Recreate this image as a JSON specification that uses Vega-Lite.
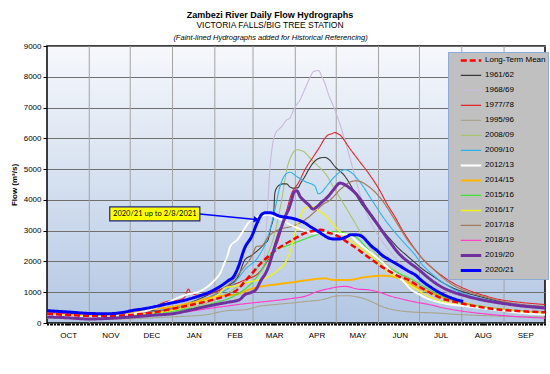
{
"$schema":"https://vega.github.io/schema/vega-lite/v6.json",
"width":498,"height":277,
"autosize":{"type":"none"},
"padding":{"left":47,"top":46,"right":5,"bottom":51},
"background":"white",
"title":{"text":"Zambezi River Daily Flow Hydrographs","subtitle":"VICTORIA FALLS/BIG TREE STATION","font":"Liberation Sans","subtitleFont":"Liberation Sans","fontSize":9,"subtitleFontSize":8.5,"fontWeight":"bold","color":"#000","subtitleColor":"#000","anchor":"middle","dx":-26,"offset":4,"subtitlePadding":1},
"config":{
 "font":"Liberation Sans",
 "view":{"stroke":"#000","strokeWidth":1.5,"fill":{"gradient":"linear","x1":0,"y1":0,"x2":0,"y2":1,"stops":[{"offset":0,"color":"#f6f8fc"},{"offset":1,"color":"#b3c7e3"}]}},
 "legend":{"fillColor":"#c0c0c0","strokeColor":"#8eaad6","padding":2,"symbolOffset":9,"symbolType":"stroke","symbolSize":420,"labelFontSize":8,"labelFont":"Liberation Sans","labelColor":"#000","labelOffset":2,"rowPadding":2,"clipHeight":12.8}
},
"datasets":{
 "months":[{"m":31},{"m":61},{"m":92},{"m":123},{"m":151},{"m":182},{"m":212},{"m":243},{"m":273},{"m":304},{"m":335}],
 "ann":[{"label":"2020/21 up to 2/8/2021","x1":46,"x2":112,"y1":3315,"y2":3770,"xm":79,"ym":3540}],
 "arrow":[{"ax":112,"ay":3540},{"ax":153.5,"ay":3360}],
 "head":[{"ax":153.5,"ay":3360}],
 "flows":[
{"series":"1968/69","day":0,"flow":220},{"series":"1968/69","day":31,"flow":160},{"series":"1968/69","day":61,"flow":200},{"series":"1968/69","day":92,"flow":350},{"series":"1968/69","day":122,"flow":650},{"series":"1968/69","day":140,"flow":900},{"series":"1968/69","day":150,"flow":1050},{"series":"1968/69","day":157,"flow":1300},{"series":"1968/69","day":159,"flow":2000},{"series":"1968/69","day":161,"flow":3200},{"series":"1968/69","day":163.5,"flow":5085},{"series":"1968/69","day":165,"flow":5700},{"series":"1968/69","day":167,"flow":6110},{"series":"1968/69","day":170,"flow":6300},{"series":"1968/69","day":172,"flow":6380},{"series":"1968/69","day":175.7,"flow":6600},{"series":"1968/69","day":178,"flow":6650},{"series":"1968/69","day":180,"flow":6850},{"series":"1968/69","day":182,"flow":7030},{"series":"1968/69","day":185.5,"flow":7250},{"series":"1968/69","day":188,"flow":7500},{"series":"1968/69","day":190.4,"flow":7740},{"series":"1968/69","day":193,"flow":8000},{"series":"1968/69","day":195.3,"flow":8170},{"series":"1968/69","day":199,"flow":8200},{"series":"1968/69","day":201.4,"flow":8010},{"series":"1968/69","day":204,"flow":7750},{"series":"1968/69","day":206,"flow":7470},{"series":"1968/69","day":211,"flow":6925},{"series":"1968/69","day":216,"flow":6280},{"series":"1968/69","day":221,"flow":5520},{"series":"1968/69","day":225.8,"flow":4760},{"series":"1968/69","day":230.6,"flow":4000},{"series":"1968/69","day":236,"flow":3400},{"series":"1968/69","day":242,"flow":2900},{"series":"1968/69","day":250,"flow":2400},{"series":"1968/69","day":258,"flow":2000},{"series":"1968/69","day":266,"flow":1650},{"series":"1968/69","day":275,"flow":1350},{"series":"1968/69","day":290,"flow":1050},{"series":"1968/69","day":308,"flow":820},{"series":"1968/69","day":320,"flow":700},{"series":"1968/69","day":335,"flow":600},{"series":"1968/69","day":350,"flow":500},{"series":"1968/69","day":365,"flow":420},
{"series":"1995/96","day":0,"flow":160},{"series":"1995/96","day":15,"flow":140},{"series":"1995/96","day":31,"flow":120},{"series":"1995/96","day":61,"flow":140},{"series":"1995/96","day":92,"flow":200},{"series":"1995/96","day":117,"flow":270},{"series":"1995/96","day":131.7,"flow":400},{"series":"1995/96","day":145,"flow":430},{"series":"1995/96","day":155,"flow":540},{"series":"1995/96","day":167,"flow":600},{"series":"1995/96","day":179.4,"flow":650},{"series":"1995/96","day":190,"flow":700},{"series":"1995/96","day":203.8,"flow":780},{"series":"1995/96","day":208.7,"flow":850},{"series":"1995/96","day":215,"flow":885},{"series":"1995/96","day":221,"flow":885},{"series":"1995/96","day":227,"flow":850},{"series":"1995/96","day":233,"flow":780},{"series":"1995/96","day":240,"flow":650},{"series":"1995/96","day":245.4,"flow":540},{"series":"1995/96","day":252,"flow":450},{"series":"1995/96","day":258,"flow":400},{"series":"1995/96","day":270,"flow":350},{"series":"1995/96","day":283,"flow":330},{"series":"1995/96","day":300,"flow":280},{"series":"1995/96","day":320,"flow":240},{"series":"1995/96","day":345,"flow":210},{"series":"1995/96","day":365,"flow":195},
{"series":"2008/09","day":0,"flow":260},{"series":"2008/09","day":31,"flow":210},{"series":"2008/09","day":61,"flow":260},{"series":"2008/09","day":92,"flow":420},{"series":"2008/09","day":120,"flow":700},{"series":"2008/09","day":140,"flow":1200},{"series":"2008/09","day":150,"flow":1550},{"series":"2008/09","day":155,"flow":1840},{"series":"2008/09","day":162,"flow":2270},{"series":"2008/09","day":167,"flow":2920},{"series":"2008/09","day":172,"flow":4000},{"series":"2008/09","day":175.7,"flow":4980},{"series":"2008/09","day":179.4,"flow":5460},{"series":"2008/09","day":183,"flow":5630},{"series":"2008/09","day":188,"flow":5570},{"series":"2008/09","day":194,"flow":5300},{"series":"2008/09","day":201.4,"flow":4980},{"series":"2008/09","day":203.8,"flow":4870},{"series":"2008/09","day":211,"flow":4330},{"series":"2008/09","day":218.5,"flow":3790},{"series":"2008/09","day":225.8,"flow":3250},{"series":"2008/09","day":233,"flow":2700},{"series":"2008/09","day":240,"flow":2300},{"series":"2008/09","day":245,"flow":2050},{"series":"2008/09","day":252,"flow":1800},{"series":"2008/09","day":258,"flow":1620},{"series":"2008/09","day":265,"flow":1400},{"series":"2008/09","day":272,"flow":1200},{"series":"2008/09","day":282,"flow":980},{"series":"2008/09","day":292,"flow":820},{"series":"2008/09","day":308,"flow":640},{"series":"2008/09","day":320,"flow":540},{"series":"2008/09","day":335,"flow":460},{"series":"2008/09","day":350,"flow":390},{"series":"2008/09","day":365,"flow":340},
{"series":"1961/62","day":0,"flow":330},{"series":"1961/62","day":15,"flow":290},{"series":"1961/62","day":31,"flow":260},{"series":"1961/62","day":46,"flow":270},{"series":"1961/62","day":61,"flow":300},{"series":"1961/62","day":70,"flow":380},{"series":"1961/62","day":75,"flow":420},{"series":"1961/62","day":80,"flow":400},{"series":"1961/62","day":92,"flow":500},{"series":"1961/62","day":107,"flow":700},{"series":"1961/62","day":120,"flow":950},{"series":"1961/62","day":130,"flow":1150},{"series":"1961/62","day":140,"flow":1500},{"series":"1961/62","day":145,"flow":2050},{"series":"1961/62","day":150,"flow":2200},{"series":"1961/62","day":155,"flow":2380},{"series":"1961/62","day":160,"flow":2600},{"series":"1961/62","day":162,"flow":2700},{"series":"1961/62","day":164,"flow":3100},{"series":"1961/62","day":166,"flow":3460},{"series":"1961/62","day":167,"flow":4220},{"series":"1961/62","day":168.5,"flow":4400},{"series":"1961/62","day":170.8,"flow":4490},{"series":"1961/62","day":173,"flow":4520},{"series":"1961/62","day":175.7,"flow":4520},{"series":"1961/62","day":178,"flow":4420},{"series":"1961/62","day":181,"flow":4380},{"series":"1961/62","day":184,"flow":4400},{"series":"1961/62","day":186,"flow":4550},{"series":"1961/62","day":189,"flow":4760},{"series":"1961/62","day":192,"flow":5000},{"series":"1961/62","day":195,"flow":5195},{"series":"1961/62","day":200,"flow":5360},{"series":"1961/62","day":203.8,"flow":5380},{"series":"1961/62","day":207,"flow":5300},{"series":"1961/62","day":211,"flow":5085},{"series":"1961/62","day":218.5,"flow":4760},{"series":"1961/62","day":225.8,"flow":4220},{"series":"1961/62","day":230,"flow":3900},{"series":"1961/62","day":235.6,"flow":3570},{"series":"1961/62","day":240,"flow":3300},{"series":"1961/62","day":245.4,"flow":3030},{"series":"1961/62","day":251,"flow":2750},{"series":"1961/62","day":257.6,"flow":2430},{"series":"1961/62","day":264,"flow":2180},{"series":"1961/62","day":270,"flow":1950},{"series":"1961/62","day":275,"flow":1760},{"series":"1961/62","day":282,"flow":1550},{"series":"1961/62","day":290.5,"flow":1300},{"series":"1961/62","day":298,"flow":1130},{"series":"1961/62","day":307.7,"flow":975},{"series":"1961/62","day":320,"flow":830},{"series":"1961/62","day":332,"flow":700},{"series":"1961/62","day":345,"flow":600},{"series":"1961/62","day":365,"flow":490},
{"series":"1977/78","day":0,"flow":350},{"series":"1977/78","day":15,"flow":300},{"series":"1977/78","day":31,"flow":270},{"series":"1977/78","day":46,"flow":280},{"series":"1977/78","day":61,"flow":320},{"series":"1977/78","day":75,"flow":450},{"series":"1977/78","day":87.7,"flow":700},{"series":"1977/78","day":97.5,"flow":755},{"series":"1977/78","day":101,"flow":850},{"series":"1977/78","day":103.6,"flow":1100},{"series":"1977/78","day":105,"flow":1000},{"series":"1977/78","day":107,"flow":950},{"series":"1977/78","day":112,"flow":900},{"series":"1977/78","day":117,"flow":920},{"series":"1977/78","day":126.8,"flow":1080},{"series":"1977/78","day":136.6,"flow":1245},{"series":"1977/78","day":145,"flow":1400},{"series":"1977/78","day":155,"flow":1620},{"series":"1977/78","day":162,"flow":2050},{"series":"1977/78","day":169.6,"flow":2700},{"series":"1977/78","day":174.5,"flow":3460},{"series":"1977/78","day":179.4,"flow":4220},{"series":"1977/78","day":184.2,"flow":4545},{"series":"1977/78","day":189,"flow":4980},{"series":"1977/78","day":195.3,"flow":5410},{"series":"1977/78","day":200,"flow":5730},{"series":"1977/78","day":203.8,"flow":6010},{"series":"1977/78","day":206,"flow":6110},{"series":"1977/78","day":209,"flow":6150},{"series":"1977/78","day":211,"flow":6190},{"series":"1977/78","day":213,"flow":6150},{"series":"1977/78","day":214.8,"flow":6110},{"series":"1977/78","day":218,"flow":5930},{"series":"1977/78","day":221,"flow":5730},{"series":"1977/78","day":228.2,"flow":5300},{"series":"1977/78","day":235.6,"flow":4870},{"series":"1977/78","day":242.9,"flow":4380},{"series":"1977/78","day":250.2,"flow":3790},{"series":"1977/78","day":255,"flow":3450},{"series":"1977/78","day":260,"flow":3050},{"series":"1977/78","day":265,"flow":2700},{"series":"1977/78","day":270,"flow":2380},{"series":"1977/78","day":275,"flow":2100},{"series":"1977/78","day":282,"flow":1800},{"series":"1977/78","day":290,"flow":1520},{"series":"1977/78","day":298,"flow":1290},{"series":"1977/78","day":308,"flow":1080},{"series":"1977/78","day":320,"flow":900},{"series":"1977/78","day":332,"flow":760},{"series":"1977/78","day":345,"flow":680},{"series":"1977/78","day":365,"flow":600},
{"series":"2009/10","day":0,"flow":300},{"series":"2009/10","day":31,"flow":240},{"series":"2009/10","day":61,"flow":290},{"series":"2009/10","day":92,"flow":500},{"series":"2009/10","day":120,"flow":870},{"series":"2009/10","day":135,"flow":1200},{"series":"2009/10","day":140,"flow":1450},{"series":"2009/10","day":145,"flow":1730},{"series":"2009/10","day":155,"flow":2160},{"series":"2009/10","day":162,"flow":2810},{"series":"2009/10","day":167,"flow":3680},{"series":"2009/10","day":170.8,"flow":4440},{"series":"2009/10","day":174.5,"flow":4810},{"series":"2009/10","day":178,"flow":4900},{"series":"2009/10","day":183,"flow":4760},{"series":"2009/10","day":189,"flow":4600},{"series":"2009/10","day":196.5,"flow":4440},{"series":"2009/10","day":198.8,"flow":4200},{"series":"2009/10","day":201.4,"flow":4250},{"series":"2009/10","day":203.8,"flow":4380},{"series":"2009/10","day":211,"flow":4760},{"series":"2009/10","day":218.5,"flow":4980},{"series":"2009/10","day":222,"flow":4920},{"series":"2009/10","day":228.2,"flow":4650},{"series":"2009/10","day":238,"flow":4000},{"series":"2009/10","day":247.8,"flow":3350},{"series":"2009/10","day":257.6,"flow":2810},{"series":"2009/10","day":265,"flow":2450},{"series":"2009/10","day":270,"flow":2200},{"series":"2009/10","day":274,"flow":1950},{"series":"2009/10","day":282,"flow":1600},{"series":"2009/10","day":290,"flow":1320},{"series":"2009/10","day":298,"flow":1100},{"series":"2009/10","day":308,"flow":920},{"series":"2009/10","day":320,"flow":780},{"series":"2009/10","day":332,"flow":660},{"series":"2009/10","day":345,"flow":560},{"series":"2009/10","day":365,"flow":460},
{"series":"2017/18","day":0,"flow":280},{"series":"2017/18","day":31,"flow":230},{"series":"2017/18","day":61,"flow":300},{"series":"2017/18","day":92,"flow":450},{"series":"2017/18","day":120,"flow":850},{"series":"2017/18","day":130.5,"flow":1150},{"series":"2017/18","day":137.8,"flow":1460},{"series":"2017/18","day":145,"flow":1850},{"series":"2017/18","day":150,"flow":2160},{"series":"2017/18","day":153.7,"flow":2490},{"series":"2017/18","day":157,"flow":2500},{"series":"2017/18","day":162.3,"flow":2810},{"series":"2017/18","day":169.6,"flow":3030},{"series":"2017/18","day":179.4,"flow":3140},{"series":"2017/18","day":189,"flow":3350},{"series":"2017/18","day":196.5,"flow":3620},{"series":"2017/18","day":203.8,"flow":3900},{"series":"2017/18","day":206,"flow":3950},{"series":"2017/18","day":216,"flow":4380},{"series":"2017/18","day":223.4,"flow":4600},{"series":"2017/18","day":227,"flow":4620},{"series":"2017/18","day":235.6,"flow":4440},{"series":"2017/18","day":245.4,"flow":4000},{"series":"2017/18","day":255,"flow":3350},{"series":"2017/18","day":265,"flow":2650},{"series":"2017/18","day":270,"flow":2380},{"series":"2017/18","day":275,"flow":2100},{"series":"2017/18","day":282,"flow":1800},{"series":"2017/18","day":290.5,"flow":1460},{"series":"2017/18","day":298,"flow":1220},{"series":"2017/18","day":307.7,"flow":1030},{"series":"2017/18","day":320,"flow":860},{"series":"2017/18","day":332,"flow":720},{"series":"2017/18","day":345,"flow":620},{"series":"2017/18","day":365,"flow":540},
{"series":"2018/19","day":0,"flow":330},{"series":"2018/19","day":15,"flow":280},{"series":"2018/19","day":31,"flow":240},{"series":"2018/19","day":61,"flow":240},{"series":"2018/19","day":92,"flow":300},{"series":"2018/19","day":105,"flow":380},{"series":"2018/19","day":120,"flow":480},{"series":"2018/19","day":130,"flow":540},{"series":"2018/19","day":140,"flow":600},{"series":"2018/19","day":150,"flow":650},{"series":"2018/19","day":165,"flow":720},{"series":"2018/19","day":180,"flow":800},{"series":"2018/19","day":190,"flow":880},{"series":"2018/19","day":196.5,"flow":1000},{"series":"2018/19","day":205,"flow":1100},{"series":"2018/19","day":218.5,"flow":1190},{"series":"2018/19","day":228,"flow":1100},{"series":"2018/19","day":235,"flow":1080},{"series":"2018/19","day":245.4,"flow":975},{"series":"2018/19","day":250,"flow":900},{"series":"2018/19","day":260,"flow":780},{"series":"2018/19","day":270,"flow":680},{"series":"2018/19","day":280,"flow":600},{"series":"2018/19","day":290.5,"flow":490},{"series":"2018/19","day":305,"flow":380},{"series":"2018/19","day":320,"flow":300},{"series":"2018/19","day":340,"flow":220},{"series":"2018/19","day":365,"flow":160},
{"series":"2014/15","day":0,"flow":270},{"series":"2014/15","day":31,"flow":250},{"series":"2014/15","day":61,"flow":300},{"series":"2014/15","day":68,"flow":380},{"series":"2014/15","day":92,"flow":530},{"series":"2014/15","day":105,"flow":650},{"series":"2014/15","day":123,"flow":850},{"series":"2014/15","day":140,"flow":950},{"series":"2014/15","day":151,"flow":1130},{"series":"2014/15","day":167,"flow":1250},{"series":"2014/15","day":179.4,"flow":1320},{"series":"2014/15","day":192,"flow":1400},{"series":"2014/15","day":203.8,"flow":1450},{"series":"2014/15","day":210,"flow":1400},{"series":"2014/15","day":221,"flow":1400},{"series":"2014/15","day":233,"flow":1490},{"series":"2014/15","day":245.4,"flow":1535},{"series":"2014/15","day":252,"flow":1520},{"series":"2014/15","day":257.6,"flow":1460},{"series":"2014/15","day":264,"flow":1330},{"series":"2014/15","day":270,"flow":1190},{"series":"2014/15","day":280,"flow":1000},{"series":"2014/15","day":290,"flow":850},{"series":"2014/15","day":308,"flow":620},{"series":"2014/15","day":320,"flow":500},{"series":"2014/15","day":335,"flow":420},{"series":"2014/15","day":350,"flow":350},{"series":"2014/15","day":365,"flow":300},
{"series":"2015/16","day":0,"flow":250},{"series":"2015/16","day":31,"flow":200},{"series":"2015/16","day":61,"flow":240},{"series":"2015/16","day":92,"flow":380},{"series":"2015/16","day":120,"flow":620},{"series":"2015/16","day":140,"flow":950},{"series":"2015/16","day":150,"flow":1300},{"series":"2015/16","day":157,"flow":1700},{"series":"2015/16","day":162,"flow":2100},{"series":"2015/16","day":167,"flow":2380},{"series":"2015/16","day":174.5,"flow":2490},{"series":"2015/16","day":184.2,"flow":2650},{"series":"2015/16","day":194,"flow":2810},{"series":"2015/16","day":201.4,"flow":2920},{"series":"2015/16","day":206,"flow":2975},{"series":"2015/16","day":211,"flow":2960},{"series":"2015/16","day":216,"flow":2940},{"series":"2015/16","day":225.8,"flow":2810},{"series":"2015/16","day":235.6,"flow":2380},{"series":"2015/16","day":245.4,"flow":1950},{"series":"2015/16","day":257.6,"flow":1620},{"series":"2015/16","day":266,"flow":1450},{"series":"2015/16","day":270,"flow":1350},{"series":"2015/16","day":276,"flow":1190},{"series":"2015/16","day":290,"flow":865},{"series":"2015/16","day":308,"flow":620},{"series":"2015/16","day":320,"flow":520},{"series":"2015/16","day":335,"flow":430},{"series":"2015/16","day":350,"flow":370},{"series":"2015/16","day":365,"flow":320},
{"series":"2016/17","day":0,"flow":300},{"series":"2016/17","day":31,"flow":230},{"series":"2016/17","day":61,"flow":270},{"series":"2016/17","day":92,"flow":420},{"series":"2016/17","day":110,"flow":650},{"series":"2016/17","day":125,"flow":900},{"series":"2016/17","day":131,"flow":1150},{"series":"2016/17","day":138,"flow":1200},{"series":"2016/17","day":145,"flow":1300},{"series":"2016/17","day":155,"flow":1400},{"series":"2016/17","day":162.3,"flow":1510},{"series":"2016/17","day":169.6,"flow":1730},{"series":"2016/17","day":174.5,"flow":1950},{"series":"2016/17","day":178,"flow":2300},{"series":"2016/17","day":181.8,"flow":2920},{"series":"2016/17","day":185.5,"flow":3460},{"series":"2016/17","day":189,"flow":3730},{"series":"2016/17","day":194,"flow":3790},{"series":"2016/17","day":200,"flow":3620},{"series":"2016/17","day":203.8,"flow":3500},{"series":"2016/17","day":211,"flow":3140},{"series":"2016/17","day":218.5,"flow":2810},{"series":"2016/17","day":228.2,"flow":2490},{"series":"2016/17","day":238,"flow":2160},{"series":"2016/17","day":247.8,"flow":1730},{"series":"2016/17","day":257.6,"flow":1460},{"series":"2016/17","day":265,"flow":1250},{"series":"2016/17","day":270,"flow":1120},{"series":"2016/17","day":276,"flow":950},{"series":"2016/17","day":290,"flow":700},{"series":"2016/17","day":308,"flow":560},{"series":"2016/17","day":332,"flow":430},{"series":"2016/17","day":365,"flow":300},
{"series":"2012/13","day":0,"flow":250},{"series":"2012/13","day":15,"flow":210},{"series":"2012/13","day":31,"flow":200},{"series":"2012/13","day":46,"flow":220},{"series":"2012/13","day":61,"flow":280},{"series":"2012/13","day":75,"flow":430},{"series":"2012/13","day":88,"flow":650},{"series":"2012/13","day":95,"flow":800},{"series":"2012/13","day":102,"flow":920},{"series":"2012/13","day":112,"flow":1030},{"series":"2012/13","day":119.5,"flow":1245},{"series":"2012/13","day":124,"flow":1450},{"series":"2012/13","day":127,"flow":1620},{"series":"2012/13","day":130,"flow":1950},{"series":"2012/13","day":132,"flow":2150},{"series":"2012/13","day":134,"flow":2450},{"series":"2012/13","day":137,"flow":2620},{"series":"2012/13","day":139,"flow":2680},{"series":"2012/13","day":142.7,"flow":2920},{"series":"2012/13","day":147.6,"flow":3250},{"series":"2012/13","day":151,"flow":3380},{"series":"2012/13","day":155,"flow":3460},{"series":"2012/13","day":162,"flow":3515},{"series":"2012/13","day":167,"flow":3450},{"series":"2012/13","day":172,"flow":3350},{"series":"2012/13","day":178,"flow":3200},{"series":"2012/13","day":184,"flow":3080},{"series":"2012/13","day":190,"flow":2980},{"series":"2012/13","day":195,"flow":2920},{"series":"2012/13","day":201,"flow":2920},{"series":"2012/13","day":206,"flow":2950},{"series":"2012/13","day":210,"flow":2920},{"series":"2012/13","day":215,"flow":2900},{"series":"2012/13","day":221,"flow":2870},{"series":"2012/13","day":227,"flow":2650},{"series":"2012/13","day":233,"flow":2430},{"series":"2012/13","day":239,"flow":2220},{"series":"2012/13","day":245,"flow":2000},{"series":"2012/13","day":251,"flow":1750},{"series":"2012/13","day":257.6,"flow":1510},{"series":"2012/13","day":262,"flow":1320},{"series":"2012/13","day":267,"flow":1080},{"series":"2012/13","day":272,"flow":950},{"series":"2012/13","day":278,"flow":810},{"series":"2012/13","day":290,"flow":650},{"series":"2012/13","day":308,"flow":540},{"series":"2012/13","day":330,"flow":420},{"series":"2012/13","day":345,"flow":340},{"series":"2012/13","day":365,"flow":270},
{"series":"Long-Term Mean","day":0,"flow":300},{"series":"Long-Term Mean","day":15,"flow":260},{"series":"Long-Term Mean","day":31,"flow":230},{"series":"Long-Term Mean","day":46,"flow":230},{"series":"Long-Term Mean","day":61,"flow":260},{"series":"Long-Term Mean","day":76,"flow":330},{"series":"Long-Term Mean","day":92,"flow":460},{"series":"Long-Term Mean","day":107,"flow":600},{"series":"Long-Term Mean","day":122,"flow":760},{"series":"Long-Term Mean","day":133,"flow":920},{"series":"Long-Term Mean","day":140,"flow":1100},{"series":"Long-Term Mean","day":145,"flow":1350},{"series":"Long-Term Mean","day":150,"flow":1600},{"series":"Long-Term Mean","day":157,"flow":1950},{"series":"Long-Term Mean","day":165,"flow":2270},{"series":"Long-Term Mean","day":172,"flow":2500},{"series":"Long-Term Mean","day":180,"flow":2700},{"series":"Long-Term Mean","day":189,"flow":2920},{"series":"Long-Term Mean","day":196,"flow":3000},{"series":"Long-Term Mean","day":201,"flow":3030},{"series":"Long-Term Mean","day":206,"flow":2940},{"series":"Long-Term Mean","day":211,"flow":2870},{"series":"Long-Term Mean","day":216,"flow":2750},{"series":"Long-Term Mean","day":221,"flow":2600},{"series":"Long-Term Mean","day":227,"flow":2420},{"series":"Long-Term Mean","day":233,"flow":2220},{"series":"Long-Term Mean","day":239,"flow":2030},{"series":"Long-Term Mean","day":245,"flow":1840},{"series":"Long-Term Mean","day":251,"flow":1680},{"series":"Long-Term Mean","day":258,"flow":1510},{"series":"Long-Term Mean","day":265,"flow":1400},{"series":"Long-Term Mean","day":270,"flow":1260},{"series":"Long-Term Mean","day":276,"flow":1100},{"series":"Long-Term Mean","day":283,"flow":930},{"series":"Long-Term Mean","day":290,"flow":790},{"series":"Long-Term Mean","day":300,"flow":680},{"series":"Long-Term Mean","day":308,"flow":595},{"series":"Long-Term Mean","day":320,"flow":500},{"series":"Long-Term Mean","day":332,"flow":430},{"series":"Long-Term Mean","day":345,"flow":390},{"series":"Long-Term Mean","day":365,"flow":345},
{"series":"2019/20","day":0,"flow":200},{"series":"2019/20","day":15,"flow":170},{"series":"2019/20","day":31,"flow":130},{"series":"2019/20","day":45,"flow":150},{"series":"2019/20","day":63,"flow":200},{"series":"2019/20","day":80,"flow":260},{"series":"2019/20","day":92,"flow":300},{"series":"2019/20","day":105,"flow":420},{"series":"2019/20","day":117,"flow":540},{"series":"2019/20","day":125,"flow":610},{"series":"2019/20","day":132,"flow":670},{"series":"2019/20","day":141,"flow":755},{"series":"2019/20","day":145,"flow":920},{"series":"2019/20","day":150,"flow":1000},{"series":"2019/20","day":153,"flow":1080},{"series":"2019/20","day":157,"flow":1400},{"series":"2019/20","day":160,"flow":1600},{"series":"2019/20","day":162.5,"flow":1850},{"series":"2019/20","day":165,"flow":2200},{"series":"2019/20","day":167,"flow":2490},{"series":"2019/20","day":170,"flow":2900},{"series":"2019/20","day":172,"flow":3140},{"series":"2019/20","day":175,"flow":3500},{"series":"2019/20","day":177,"flow":3680},{"series":"2019/20","day":179,"flow":3950},{"series":"2019/20","day":181,"flow":4250},{"series":"2019/20","day":183,"flow":4300},{"series":"2019/20","day":185.5,"flow":4110},{"series":"2019/20","day":189,"flow":3950},{"series":"2019/20","day":192,"flow":3830},{"series":"2019/20","day":195,"flow":3700},{"series":"2019/20","day":198,"flow":3780},{"series":"2019/20","day":201,"flow":3910},{"series":"2019/20","day":206,"flow":4110},{"series":"2019/20","day":210,"flow":4330},{"series":"2019/20","day":214.8,"flow":4545},{"series":"2019/20","day":218.5,"flow":4490},{"series":"2019/20","day":222,"flow":4380},{"series":"2019/20","day":226,"flow":4220},{"series":"2019/20","day":230,"flow":4000},{"series":"2019/20","day":233,"flow":3790},{"series":"2019/20","day":240,"flow":3350},{"series":"2019/20","day":245,"flow":3030},{"series":"2019/20","day":251,"flow":2650},{"series":"2019/20","day":258,"flow":2250},{"series":"2019/20","day":265,"flow":1980},{"series":"2019/20","day":272,"flow":1750},{"series":"2019/20","day":280,"flow":1450},{"series":"2019/20","day":288,"flow":1200},{"series":"2019/20","day":298,"flow":1000},{"series":"2019/20","day":308,"flow":865},{"series":"2019/20","day":320,"flow":740},{"series":"2019/20","day":332,"flow":650},{"series":"2019/20","day":345,"flow":570},{"series":"2019/20","day":365,"flow":490},
{"series":"2020/21","day":0,"flow":400},{"series":"2020/21","day":15,"flow":360},{"series":"2020/21","day":31,"flow":310},{"series":"2020/21","day":44,"flow":300},{"series":"2020/21","day":55,"flow":340},{"series":"2020/21","day":63,"flow":410},{"series":"2020/21","day":72,"flow":470},{"series":"2020/21","day":80,"flow":540},{"series":"2020/21","day":90,"flow":640},{"series":"2020/21","day":97,"flow":700},{"series":"2020/21","day":105,"flow":790},{"series":"2020/21","day":112,"flow":885},{"series":"2020/21","day":120,"flow":1020},{"series":"2020/21","day":127,"flow":1190},{"series":"2020/21","day":133,"flow":1380},{"series":"2020/21","day":137,"flow":1520},{"series":"2020/21","day":140,"flow":1800},{"series":"2020/21","day":145,"flow":2450},{"series":"2020/21","day":150,"flow":2810},{"series":"2020/21","day":154,"flow":3250},{"series":"2020/21","day":157.4,"flow":3530},{"series":"2020/21","day":160,"flow":3580},{"series":"2020/21","day":164,"flow":3580},{"series":"2020/21","day":170,"flow":3480},{"series":"2020/21","day":176,"flow":3430},{"series":"2020/21","day":180,"flow":3400},{"series":"2020/21","day":185,"flow":3330},{"series":"2020/21","day":189,"flow":3250},{"series":"2020/21","day":193,"flow":3130},{"series":"2020/21","day":197,"flow":3020},{"series":"2020/21","day":202,"flow":2880},{"series":"2020/21","day":206,"flow":2770},{"series":"2020/21","day":210,"flow":2730},{"series":"2020/21","day":214,"flow":2730},{"series":"2020/21","day":219,"flow":2790},{"series":"2020/21","day":223,"flow":2870},{"series":"2020/21","day":228,"flow":2860},{"series":"2020/21","day":231,"flow":2810},{"series":"2020/21","day":235,"flow":2630},{"series":"2020/21","day":238,"flow":2490},{"series":"2020/21","day":242,"flow":2350},{"series":"2020/21","day":245,"flow":2220},{"series":"2020/21","day":250,"flow":2080},{"series":"2020/21","day":258,"flow":1870},{"series":"2020/21","day":265,"flow":1680},{"series":"2020/21","day":270,"flow":1560},{"series":"2020/21","day":274,"flow":1400},{"series":"2020/21","day":280,"flow":1200},{"series":"2020/21","day":288,"flow":980},{"series":"2020/21","day":296,"flow":820},{"series":"2020/21","day":305,"flow":700}
 ]
},
"layer":[
 {"data":{"name":"months"},"mark":{"type":"rule","color":"#a3a3a3","strokeWidth":1},
  "encoding":{"x":{"field":"m","type":"quantitative","scale":{"domain":[0,365],"nice":false,"zero":false},
   "axis":{"orient":"top","title":"(Faint-lined Hydrographs added for Historical Referencing)","labels":false,"ticks":false,"domain":false,"grid":false,"titleFontStyle":"italic","titleFontWeight":"normal","titleFontSize":7.5,"titleColor":"#000","titlePadding":5,"minExtent":0,"maxExtent":0,"titleX":223}}}},
 {"data":{"name":"flows"},"mark":{"type":"line","interpolate":"monotone"},
  "encoding":{
   "x":{"field":"day","type":"quantitative","scale":{"domain":[0,365],"nice":false,"zero":false},
    "axis":{"orient":"bottom","title":null,"grid":false,"domain":false,"tickSize":2,"tickColor":"#000","labelFontSize":8,"labelColor":"#000","labelPadding":6,"labelOverlap":false,"labelBound":false,"labelFlush":false,
     "values":[0,1,2,3,4,5,6,7,8,9,10,11,12,13,14,15,15.5,16,17,18,19,20,21,22,23,24,25,26,27,28,29,30,31,32,33,34,35,36,37,38,39,40,41,42,43,44,45,46,46.5,47,48,49,50,51,52,53,54,55,56,57,58,59,60,61,62,63,64,65,66,67,68,69,70,71,72,73,74,75,76,76.5,77,78,79,80,81,82,83,84,85,86,87,88,89,90,91,92,93,94,95,96,97,98,99,100,101,102,103,104,105,106,107,107.5,108,109,110,111,112,113,114,115,116,117,118,119,120,121,122,123,124,125,126,127,128,129,130,131,132,133,134,135,136,137,137.5,138,139,140,141,142,143,144,145,146,147,148,149,150,151,152,153,154,155,156,157,158,159,160,161,162,163,164,165,166,166.5,167,168,169,170,171,172,173,174,175,176,177,178,179,180,181,182,183,184,185,186,187,188,189,190,191,192,193,194,195,196,197,197.5,198,199,200,201,202,203,204,205,206,207,208,209,210,211,212,213,214,215,216,217,218,219,220,221,222,223,224,225,226,227,227.5,228,229,230,231,232,233,234,235,236,237,238,239,240,241,242,243,244,245,246,247,248,249,250,251,252,253,254,255,256,257,258,258.5,259,260,261,262,263,264,265,266,267,268,269,270,271,272,273,274,275,276,277,278,279,280,281,282,283,284,285,286,287,288,288.5,289,290,291,292,293,294,295,296,297,298,299,300,301,302,303,304,305,306,307,308,309,310,311,312,313,314,315,316,317,318,319,319.5,320,321,322,323,324,325,326,327,328,329,330,331,332,333,334,335,336,337,338,339,340,341,342,343,344,345,346,347,348,349,350,350.5,351,352,353,354,355,356,357,358,359,360,361,362,363,364,365],
     "labelExpr":"datum.value==15.5?'OCT':datum.value==46.5?'NOV':datum.value==76.5?'DEC':datum.value==107.5?'JAN':datum.value==137.5?'FEB':datum.value==166.5?'MAR':datum.value==197.5?'APR':datum.value==227.5?'MAY':datum.value==258.5?'JUN':datum.value==288.5?'JUL':datum.value==319.5?'AUG':datum.value==350.5?'SEP':''"}},
   "y":{"field":"flow","type":"quantitative","scale":{"domain":[0,9000],"nice":false},
    "axis":{"title":"Flow (m³/s)","values":[0,1000,2000,3000,4000,5000,6000,7000,8000,9000],"format":"d","labelOverlap":false,"grid":true,"gridColor":"#6f6f6f","gridWidth":1,"domain":false,"tickSize":4,"tickColor":"#000","labelFontSize":8,"labelColor":"#000","labelPadding":2,"titleFontSize":8,"titleFontWeight":"bold","titleColor":"#000","titlePadding":5}},
   "color":{"field":"series","type":"nominal",
    "scale":{"domain":["Long-Term Mean","1961/62","1968/69","1977/78","1995/96","2008/09","2009/10","2012/13","2014/15","2015/16","2016/17","2017/18","2018/19","2019/20","2020/21"],
     "range":["#ff0000","#3a3a3a","#c9b9da","#e4262a","#a9a58c","#a9c46e","#2db3ea","#ffffff","#ffb400","#44e02e","#f0f020","#a27a5c","#ff40c8","#7030a0","#0000ff"]},
    "legend":{"title":null,"orient":"none","legendX":401,"legendY":6}},
   "strokeWidth":{"field":"series","type":"nominal",
    "scale":{"type":"ordinal","domain":["Long-Term Mean","1961/62","1968/69","1977/78","1995/96","2008/09","2009/10","2012/13","2014/15","2015/16","2016/17","2017/18","2018/19","2019/20","2020/21"],
     "range":[2.5,1.1,1.1,1.1,1.1,1.1,1.1,2,2,1.2,1.5,1.2,1.2,3,3]},
    "legend":{"title":null,"orient":"none","legendX":401,"legendY":6}},
   "strokeDash":{"field":"series","type":"nominal",
    "scale":{"domain":["Long-Term Mean","1961/62","1968/69","1977/78","1995/96","2008/09","2009/10","2012/13","2014/15","2015/16","2016/17","2017/18","2018/19","2019/20","2020/21"],
     "range":[[6,3],[1,0],[1,0],[1,0],[1,0],[1,0],[1,0],[1,0],[1,0],[1,0],[1,0],[1,0],[1,0],[1,0],[1,0]]},
    "legend":{"title":null,"orient":"none","legendX":401,"legendY":6}}
  }},
 {"data":{"name":"arrow"},"mark":{"type":"line","color":"#0000ff","strokeWidth":1.5},
  "encoding":{"x":{"field":"ax","type":"quantitative","axis":null},"y":{"field":"ay","type":"quantitative","axis":null}}},
 {"data":{"name":"head"},"mark":{"type":"point","shape":"triangle-right","filled":true,"color":"#0000ff","size":45,"angle":6,"opacity":1},
  "encoding":{"x":{"field":"ax","type":"quantitative","axis":null},"y":{"field":"ay","type":"quantitative","axis":null}}},
 {"data":{"name":"ann"},"mark":{"type":"rect","fill":"#ffff00","stroke":"#1a237e","strokeWidth":1.2},
  "encoding":{"x":{"field":"x1","type":"quantitative","axis":null},"x2":{"field":"x2"},"y":{"field":"y1","type":"quantitative","axis":null},"y2":{"field":"y2"}}},
 {"data":{"name":"ann"},"mark":{"type":"text","font":"Lato","fontSize":7.5,"color":"#000"},
  "encoding":{"x":{"field":"xm","type":"quantitative","axis":null},"y":{"field":"ym","type":"quantitative","axis":null},"text":{"field":"label"}}}
],
"resolve":{"axis":{"x":"independent","y":"independent"}}
}
